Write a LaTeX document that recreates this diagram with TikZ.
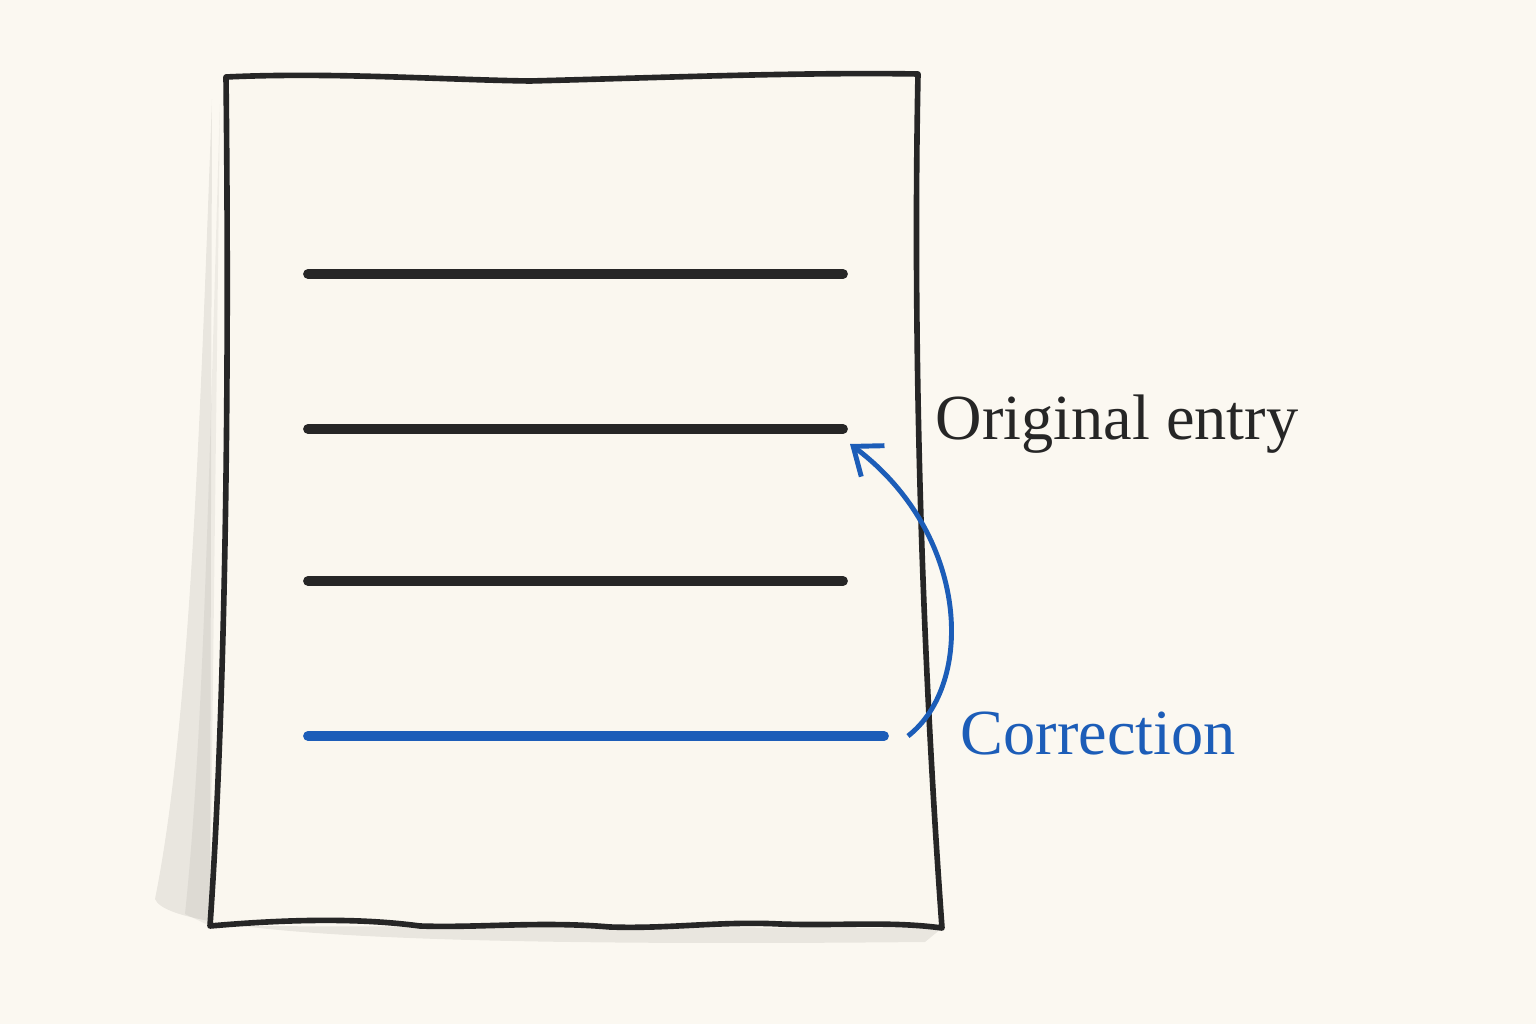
\documentclass[tikz,border=0pt]{standalone}
\usepackage{fontspec}
\setmainfont{Liberation Serif}
\usetikzlibrary{arrows.meta}
\definecolor{paperbg}{HTML}{FBF8F1}
\definecolor{sheet}{HTML}{FAF7EF}
\definecolor{inkblue}{HTML}{1C5DB8}
\definecolor{ink}{HTML}{262626}
\tikzset{
	entry/.style={line width=2.8pt,line cap=round,color=ink},
	fixline/.style={entry,color=inkblue},
	label/.style={font=\fontsize{18.3}{22}\selectfont,inner sep=0pt}
}

\begin{document}
\begin{tikzpicture}

	% background
	\fill[paperbg] (0,0) rectangle (15.36,10.24);
	\useasboundingbox (0,0) rectangle (15.36,10.24);

	% shadow
	\fill[black,opacity=0.07] (2.12,9.25) .. controls (2.0,6) and (1.9,3) .. (1.55,1.25)
		.. controls (1.7,0.85) and (5,0.78) .. (9.25,0.82) -- (9.42,0.96) -- (2.10,0.98) -- cycle;
	\fill[black,opacity=0.05] (2.20,9.20) .. controls (2.1,6) and (2.05,3) .. (1.85,1.1)
		-- (2.10,0.98) -- cycle;

	% draw page
	\draw[line width=1.6pt,color=ink,fill=sheet,line join=round]
		(2.26,9.47) .. controls (3.3,9.52) and (4.5,9.44) .. (5.3,9.43)
		.. controls (6.5,9.46) and (8.0,9.52) .. (9.18,9.50)
		.. controls (9.13,7.0) and (9.20,4.0) .. (9.42,0.96)
		.. controls (8.9,1.03) and (8.4,0.98) .. (7.8,1.00)
		.. controls (7.2,1.03) and (6.7,0.95) .. (6.1,0.97)
		.. controls (5.4,1.03) and (4.8,0.96) .. (4.2,0.98)
		.. controls (3.6,1.06) and (2.9,1.05) .. (2.10,0.98)
		.. controls (2.24,3.0) and (2.30,6.0) .. (2.26,9.47) -- cycle;

	% entries
	\draw[entry] (3.08,7.50) coordinate (a1) -- (8.43,7.50) coordinate (b1);
	\draw[entry] (3.08,5.95) coordinate (a2) -- (8.43,5.95) coordinate (b2);
	\draw[entry] (3.08,4.43) coordinate (a3) -- (8.43,4.43) coordinate (b3);
	\draw[fixline] (3.08,2.88) coordinate (a4) -- (8.84,2.88) coordinate (b4);

	% labels
	\node[label,anchor=base west,color=ink] (orig) at (9.35,5.85) {Original entry};
	\node[label,anchor=base west,color=inkblue] (corr) at (9.60,2.70) {Correction};

	% arrow
	\coordinate (tail) at (9.08,2.88);
	\coordinate (head) at (8.50,5.80);
	\draw[line width=1.4pt,color=inkblue,-{Straight Barb[length=7pt,width=11pt]}]
		(tail) .. controls (9.75,3.4) and (9.7,4.9) .. (head);

\end{tikzpicture}
\end{document}
